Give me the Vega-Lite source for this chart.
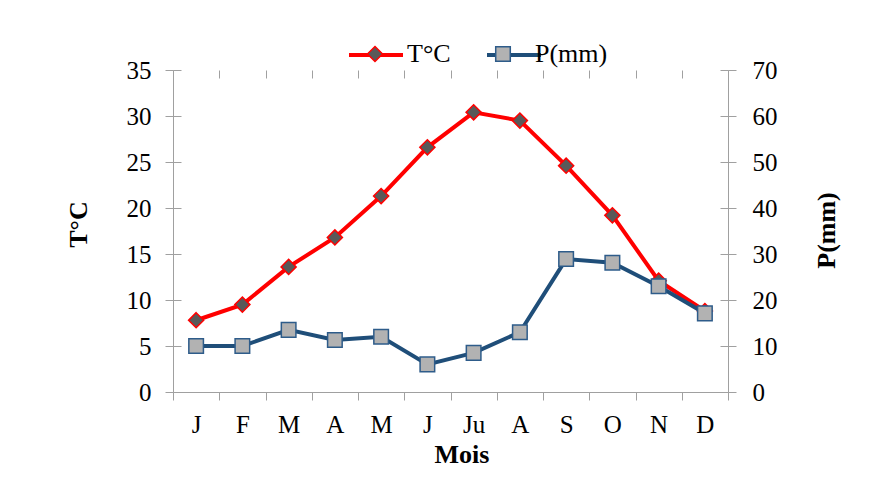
{
  "$schema": "https://vega.github.io/schema/vega-lite/v6.json",
  "width": 555,
  "height": 322,
  "autosize": {"type": "none"},
  "padding": {"left": 173, "top": 70, "right": 167, "bottom": 94},
  "background": "white",
  "data": {
    "values": [
      {"mois": "Janvier", "T": 7.8, "P": 10.0},
      {"mois": "Février", "T": 9.5, "P": 10.0},
      {"mois": "Mars", "T": 13.6, "P": 13.5},
      {"mois": "Avril", "T": 16.8, "P": 11.3},
      {"mois": "Mai", "T": 21.3, "P": 12.0},
      {"mois": "Juin", "T": 26.6, "P": 6.0},
      {"mois": "Juillet", "T": 30.4, "P": 8.5},
      {"mois": "Août", "T": 29.5, "P": 13.0},
      {"mois": "Septembre", "T": 24.6, "P": 28.9},
      {"mois": "Octobre", "T": 19.2, "P": 28.1},
      {"mois": "Novembre", "T": 12.1, "P": 23.0},
      {"mois": "Décembre", "T": 8.8, "P": 17.1}
    ]
  },
  "layer": [
    {
      "mark": {"type": "line", "strokeWidth": 4},
      "encoding": {
        "x": {
          "field": "mois", "type": "ordinal", "sort": null, "bandPosition": 0.5,
          "scale": {"type": "band", "paddingInner": 0, "paddingOuter": 0},
          "axis": {
            "tickBand": "extent",
            "labelExpr": "['J','F','M','A','M','J','Ju','A','S','O','N','D'][indexof(['Janvier','Février','Mars','Avril','Mai','Juin','Juillet','Août','Septembre','Octobre','Novembre','Décembre'], datum.value)]",
            "labelPadding": 12, "labelAngle": 0, "labelBaseline": "top",
            "title": "Mois", "titleX": 288.5, "titleY": 62, "titleBaseline": "middle", "titleAlign": "center"
          }
        },
        "y": {
          "field": "T", "type": "quantitative",
          "scale": {"domain": [0, 35], "nice": false},
          "axis": {
            "orient": "left", "values": [0, 5, 10, 15, 20, 25, 30, 35], "labelPadding": 14,
            "title": "T°C", "titleX": -95, "titleY": 154, "titleAngle": 270,
            "titleAlign": "center", "titleBaseline": "middle"
          }
        },
        "stroke": {
          "datum": "T°C", "type": "nominal",
          "scale": {"domain": ["T°C", "P(mm)"], "range": ["#ff0000", "#1f4e79"]},
          "legend": {
            "orient": "none", "legendX": 174, "legendY": -44, "direction": "horizontal", "columns": 2,
            "title": null, "symbolType": "stroke", "symbolSize": 2916, "symbolStrokeWidth": 4,
            "labelExpr": "''", "columnPadding": 68
          }
        }
      }
    },
    {
      "mark": {"type": "point", "filled": false, "strokeWidth": 1.5, "opacity": 1, "size": 2916},
      "encoding": {
        "x": {
          "field": "mois", "type": "ordinal", "sort": null, "bandPosition": 0.5,
          "axis": {"tickBand": "extent", "tickSize": -8, "labels": false, "domain": false, "title": null}
        },
        "y": {
          "field": "T", "type": "quantitative",
          "scale": {"domain": [0, 35], "nice": false},
          "axis": {"orient": "left", "values": [0, 5, 10, 15, 20, 25, 30, 35], "tickSize": -8, "labels": false, "domain": false, "title": null}
        },
        "shape": {
          "datum": "T", "type": "nominal",
          "scale": {
            "domain": ["T", "P"],
            "range": ["M0,-0.28L0.28,0L0,0.28L-0.28,0Z", "M-0.27,-0.27H0.27V0.27H-0.27Z"]
          },
          "legend": {
            "orient": "none", "legendX": 174, "legendY": -44, "direction": "horizontal", "columns": 2,
            "title": null, "symbolSize": 2916, "symbolStrokeWidth": 1.5,
            "labelExpr": "datum.label === 'T' ? 'T°C' : 'P(mm)'"
          }
        },
        "fill": {
          "datum": "T", "type": "nominal",
          "scale": {"domain": ["T", "P"], "range": ["#595959", "#b2b2b2"]},
          "legend": {
            "orient": "none", "legendX": 174, "legendY": -44, "direction": "horizontal", "columns": 2,
            "title": null, "symbolSize": 2916, "symbolStrokeWidth": 1.5,
            "labelExpr": "datum.label === 'T' ? 'T°C' : 'P(mm)'"
          }
        },
        "color": {
          "datum": "T", "type": "nominal",
          "scale": {"domain": ["T", "P"], "range": ["#ff0000", "#2e5c8a"]},
          "legend": {
            "orient": "none", "legendX": 174, "legendY": -44, "direction": "horizontal", "columns": 2,
            "title": null, "symbolSize": 2916, "symbolStrokeWidth": 1.5,
            "labelExpr": "datum.label === 'T' ? 'T°C' : 'P(mm)'"
          }
        }
      }
    },
    {
      "mark": {"type": "line", "strokeWidth": 4},
      "encoding": {
        "x": {"field": "mois", "type": "ordinal", "sort": null, "bandPosition": 0.5, "axis": null},
        "y": {
          "field": "P", "type": "quantitative",
          "scale": {"domain": [0, 70], "nice": false},
          "axis": {
            "orient": "right", "values": [0, 10, 20, 30, 40, 50, 60, 70], "labelPadding": 16,
            "title": "P(mm)", "titleX": 98, "titleY": 160, "titleAngle": 270,
            "titleAlign": "center", "titleBaseline": "middle"
          }
        },
        "stroke": {"datum": "P(mm)", "type": "nominal"}
      }
    },
    {
      "mark": {"type": "point", "filled": false, "strokeWidth": 1.5, "opacity": 1, "size": 2916},
      "encoding": {
        "x": {"field": "mois", "type": "ordinal", "sort": null, "bandPosition": 0.5, "axis": null},
        "y": {
          "field": "P", "type": "quantitative",
          "scale": {"domain": [0, 70], "nice": false},
          "axis": {"orient": "right", "values": [0, 10, 20, 30, 40, 50, 60, 70], "tickSize": -8, "labels": false, "domain": false, "title": null}
        },
        "shape": {"datum": "P", "type": "nominal"},
        "fill": {"datum": "P", "type": "nominal"},
        "color": {"datum": "P", "type": "nominal"}
      }
    }
  ],
  "resolve": {"scale": {"y": "independent"}, "axis": {"x": "independent", "y": "independent"}},
  "config": {
    "view": {"stroke": null},
    "font": "Liberation Serif",
    "axis": {
      "grid": false,
      "domainColor": "#a0a0a0", "domainWidth": 1,
      "tickColor": "#a0a0a0", "tickWidth": 1, "tickSize": 8,
      "labelFont": "Liberation Serif", "labelFontSize": 25, "labelColor": "#000000",
      "titleFont": "Liberation Serif", "titleFontSize": 26, "titleFontWeight": "bold", "titleColor": "#000000"
    },
    "legend": {
      "labelFont": "Liberation Serif", "labelFontSize": 26, "labelColor": "#000000",
      "labelOffset": 4, "columnPadding": 24, "padding": 0, "labelLimit": 0
    }
  }
}
